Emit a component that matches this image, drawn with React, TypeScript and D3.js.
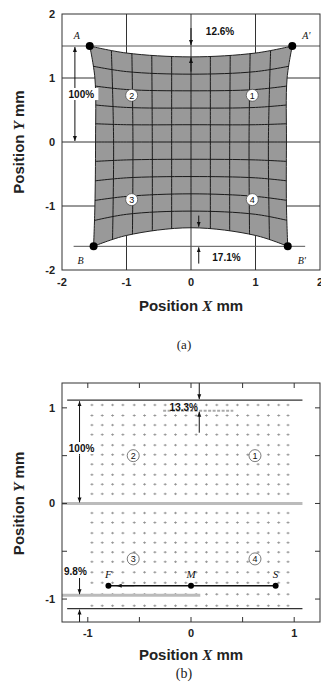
import React from 'react'
import * as d3 from 'd3'

const W = 321
const H = 693

// ---- panel (a): distorted square mesh ----
const aTickValues = [-2, -1, 0, 1, 2]
const aGridValues = [-1, 0, 1]
const topEdgeX = [-1.57, -1.0, 0, 1.0, 1.57]
const topEdgeY = [1.5, 1.39, 1.33, 1.39, 1.5]
const rightEdgeX = [1.57, 1.49, 1.48, 1.48, 1.5]
const rightEdgeY = [1.5, 1.0, 0, -1.0, -1.63]
const bottomEdgeX = [1.5, 1.0, 0, -1.0, -1.51]
const bottomEdgeY = [-1.63, -1.46, -1.34, -1.46, -1.63]
const leftEdgeX = [-1.51, -1.49, -1.48, -1.49, -1.57]
const leftEdgeY = [-1.63, -1.0, 0, 1.0, 1.5]
// mesh rows: y at x = 0, x = +-1, x = +-1.55
const rowMid = [1.06, 0.8, 0.53, 0.27, 0, -0.27, -0.54, -0.81, -1.08]
const rowShoulder = [1.1, 0.82, 0.54, 0.27, 0, -0.28, -0.56, -0.85, -1.13]
const rowEnd = [1.2, 0.89, 0.59, 0.29, 0, -0.31, -0.62, -0.93, -1.25]
// mesh columns: x at top, middle, bottom
const colTop = [-1.24, -0.92, -0.61, -0.3, 0, 0.3, 0.61, 0.92, 1.24]
const colMid = [-1.2, -0.9, -0.6, -0.3, 0, 0.3, 0.6, 0.9, 1.2]
const colBottom = [-1.22, -0.91, -0.6, -0.3, 0, 0.3, 0.6, 0.91, 1.22]
const cornerNames = ['A', "A'", 'B', "B'"]
const cornerX = [-1.57, 1.57, -1.51, 1.5]
const cornerY = [1.5, 1.5, -1.63, -1.63]
const aRefTop = 1.5
const aRefBottom = -1.63
const aQuadX = [0.95, -0.92, -0.92, 0.95]
const aQuadY = [0.73, 0.73, -0.9, -0.9]

// ---- panel (b): measured point grid ----
const bTickValues = [-1, 0, 1]
const bMinorTicks = [-1, -0.5, 0, 0.5, 1]
const dotX = [-0.96, -0.86, -0.76, -0.66, -0.55, -0.45, -0.35, -0.25, -0.15, -0.05,
  0.05, 0.15, 0.25, 0.35, 0.45, 0.55, 0.65, 0.75, 0.85, 0.94]
const dotY = [1.03, 0.92, 0.82, 0.72, 0.61, 0.51, 0.41, 0.3, 0.2, 0.1, 0,
  -0.1, -0.2, -0.31, -0.41, -0.51, -0.61, -0.72, -0.83, -0.95, -1.07]
const bLineTop = 1.08
const bLineBottom = -1.1
const bDeformTop = 0.97
const bDeformBottom = -0.96
const fmsNames = ['F', 'M', 'S']
const fmsX = [-0.8, 0, 0.82]
const fmsY = -0.86
const bQuadX = [0.62, -0.56, -0.56, 0.62]
const bQuadY = [0.5, 0.5, -0.58, -0.58]

const font = "'Liberation Sans', Arial, sans-serif"

const xa = d3.scaleLinear().domain([-2, 2]).range([62, 320])
const ya = d3.scaleLinear().domain([-2, 2]).range([270, 14])
const xb = d3.scaleLinear().domain([-1.25, 1.25]).range([62, 320])
const yb = d3.scaleLinear().domain([-1.24, 1.26]).range([622, 383])

const curve = d3.line<[number, number]>()
  .x((d) => xa(d[0]))
  .y((d) => ya(d[1]))
  .curve(d3.curveCatmullRom.alpha(0.5))

const zip = (xs: number[], ys: number[]): [number, number][] => xs.map((x, i) => [x, ys[i]])

function shapePath(): string {
  const parts = [
    curve(zip(topEdgeX, topEdgeY)) || '',
    curve(zip(rightEdgeX, rightEdgeY)) || '',
    curve(zip(bottomEdgeX, bottomEdgeY)) || '',
    curve(zip(leftEdgeX, leftEdgeY)) || ''
  ]
  return parts.map((p, i) => (i === 0 ? p : 'L' + p.slice(1))).join('') + 'Z'
}

const Arrow = ({ x1, y1, x2, y2, both }: any) => (
  <line x1={x1} y1={y1} x2={x2} y2={y2} stroke="#111" strokeWidth={1}
    markerEnd="url(#ah)" markerStart={both ? 'url(#ah)' : undefined} />
)

const Label = ({ x, y, text, size = 10, bg = false, w = 34 }: any) => (
  <g>
    {bg && <rect x={x - w / 2} y={y - size * 0.6} width={w} height={size * 1.2} fill="#fff" />}
    <text x={x} y={y} dy="0.35em" textAnchor="middle" fontFamily={font} fontSize={size}
      fontWeight="bold" fill="#111">{text}</text>
  </g>
)

const Circled = ({ x, y, n }: any) => (
  <g>
    <circle cx={x} cy={y} r={6} fill="#fff" stroke="#444" strokeWidth={0.7} />
    <text x={x} y={y} dy="0.36em" textAnchor="middle" fontFamily={font} fontSize={9}
      fill="#111">{n}</text>
  </g>
)

function PanelA() {
  const d = shapePath()
  const rowLine = d3.line<[number, number]>()
    .x((p) => xa(p[0])).y((p) => ya(p[1])).curve(d3.curveCatmullRom.alpha(0.5))
  return (
    <g>
      <defs>
        <clipPath id="meshClip"><path d={d} /></clipPath>
      </defs>
      {aGridValues.map((v) => (
        <g key={'g' + v}>
          <line x1={xa(v)} x2={xa(v)} y1={ya(2)} y2={ya(-2)} stroke="#333" strokeWidth={1} />
          <line x1={xa(-2)} x2={xa(2)} y1={ya(v)} y2={ya(v)} stroke="#333" strokeWidth={1} />
        </g>
      ))}
      <line x1={xa(-2)} x2={xa(2)} y1={ya(aRefTop)} y2={ya(aRefTop)} stroke="#555" strokeWidth={1} />
      <line x1={xa(-1.82)} x2={xa(1.77)} y1={ya(aRefBottom)} y2={ya(aRefBottom)} stroke="#555" strokeWidth={1} />
      <path d={d} fill="#999" stroke="#222" strokeWidth={1} />
      <g clipPath="url(#meshClip)">
        {rowMid.map((m, i) => (
          <path key={'r' + i} fill="none" stroke="#1a1a1a" strokeWidth={1}
            d={rowLine([[-1.6, rowEnd[i]], [-1.0, rowShoulder[i]], [0, m], [1.0, rowShoulder[i]], [1.6, rowEnd[i]]]) || ''} />
        ))}
        {colMid.map((m, i) => (
          <path key={'c' + i} fill="none" stroke="#1a1a1a" strokeWidth={1}
            d={rowLine([[colTop[i], 1.6], [m, 0], [colBottom[i], -1.7]]) || ''} />
        ))}
      </g>
      <rect x={xa(-2)} y={ya(2)} width={xa(2) - xa(-2)} height={ya(-2) - ya(2)}
        fill="none" stroke="#333" strokeWidth={1} />
      {cornerNames.map((n, i) => (
        <g key={n}>
          <circle cx={xa(cornerX[i])} cy={ya(cornerY[i])} r={4} fill="#000" />
          <text x={xa(cornerX[i]) + (i % 2 === 0 ? -16 : 10)} y={ya(cornerY[i]) + (i < 2 ? -11 : 14)}
            dy="0.35em" fontFamily="'Liberation Serif', serif" fontStyle="italic" fontSize={10}
            fill="#111">{n}</text>
        </g>
      ))}
      {aQuadX.map((x, i) => <Circled key={'q' + i} x={xa(x)} y={ya(aQuadY[i])} n={i + 1} />)}
      <Arrow x1={xa(-1.8)} y1={ya(0.75)} x2={xa(-1.8)} y2={ya(aRefTop) + 1} />
      <Arrow x1={xa(-1.8)} y1={ya(0.75)} x2={xa(-1.8)} y2={ya(0) - 1} />
      <Label x={xa(-1.7)} y={ya(0.75)} text="100%" bg w={34} />
      <Arrow x1={xa(0)} y1={ya(1.78)} x2={xa(0)} y2={ya(aRefTop) - 1} />
      <Arrow x1={xa(0)} y1={ya(1.1)} x2={xa(0)} y2={ya(1.33) + 1} />
      <Label x={xa(0.45)} y={ya(1.72)} text="12.6%" />
      <Arrow x1={xa(0.12)} y1={ya(-1.15)} x2={xa(0.12)} y2={ya(-1.34) - 1} />
      <Arrow x1={xa(0.12)} y1={ya(-1.9)} x2={xa(0.12)} y2={ya(aRefBottom) + 1} />
      <Label x={xa(0.55)} y={ya(-1.81)} text="17.1%" />
      {aTickValues.map((v) => (
        <g key={'t' + v}>
          <text x={xa(-2) - 7} y={ya(v)} dy="0.35em" textAnchor="end" fontFamily={font}
            fontSize={11} fontWeight="bold" fill="#222">{v}</text>
          <text x={xa(v)} y={ya(-2) + 16} textAnchor="middle" fontFamily={font}
            fontSize={11} fontWeight="bold" fill="#222">{v}</text>
        </g>
      ))}
      <text x={xa(0)} y={311} textAnchor="middle" fontFamily={font} fontSize={15}
        fontWeight="bold" fill="#222">Position <tspan fontStyle="italic" fontFamily="'Liberation Serif', serif">X</tspan> mm</text>
      <text transform={`translate(24,${ya(0)}) rotate(-90)`} textAnchor="middle" fontFamily={font}
        fontSize={15} fontWeight="bold" fill="#222">Position <tspan fontStyle="italic" fontFamily="'Liberation Serif', serif">Y</tspan> mm</text>
      <text x={184} y={349} textAnchor="middle" fontFamily="'Liberation Serif', serif" fontSize={13}
        fill="#222">(a)</text>
    </g>
  )
}

function PanelB() {
  const pts: [number, number][] = []
  dotY.forEach((y) => dotX.forEach((x) => pts.push([x, y])))
  return (
    <g>
      {pts.map(([x, y], i) => (
        <g key={'p' + i} stroke="#8a8a8a" strokeWidth={0.8}>
          <line x1={xb(x) - 1.5} x2={xb(x) + 1.5} y1={yb(y)} y2={yb(y)} />
          <line x1={xb(x)} x2={xb(x)} y1={yb(y) - 1.2} y2={yb(y) + 1.2} />
        </g>
      ))}
      <line x1={xb(-1.25)} x2={xb(1.08)} y1={yb(0)} y2={yb(0)} stroke="#bbb" strokeWidth={3} />
      <line x1={xb(-1.25)} x2={xb(0.09)} y1={yb(bDeformBottom)} y2={yb(bDeformBottom)} stroke="#bbb" strokeWidth={3} />
      <line x1={xb(-0.27)} x2={xb(0.41)} y1={yb(bDeformTop)} y2={yb(bDeformTop)} stroke="#aaa" strokeWidth={2} strokeDasharray="3,1.5" />
      <line x1={xb(-1.2)} x2={xb(1.08)} y1={yb(bLineTop)} y2={yb(bLineTop)} stroke="#333" strokeWidth={1.2} />
      <line x1={xb(-1.2)} x2={xb(1.08)} y1={yb(bLineBottom)} y2={yb(bLineBottom)} stroke="#333" strokeWidth={1.2} />
      <line x1={xb(fmsX[0])} x2={xb(fmsX[2])} y1={yb(fmsY)} y2={yb(fmsY)} stroke="#111" strokeWidth={1.5} />
      <Arrow x1={xb(-0.55)} y1={yb(fmsY)} x2={xb(-0.72)} y2={yb(fmsY)} />
      {fmsNames.map((n, i) => (
        <g key={n}>
          <circle cx={xb(fmsX[i])} cy={yb(fmsY)} r={3} fill="#000" />
          <text x={xb(fmsX[i])} y={yb(fmsY) - 8} textAnchor="middle" fontFamily="'Liberation Serif', serif"
            fontStyle="italic" fontSize={11} fill="#111">{n}</text>
        </g>
      ))}
      {bQuadX.map((x, i) => <Circled key={'q' + i} x={xb(x)} y={yb(bQuadY[i])} n={i + 1} />)}
      <Arrow x1={xb(-1.08)} y1={yb(0.5)} x2={xb(-1.08)} y2={yb(bLineTop) + 1} />
      <Arrow x1={xb(-1.08)} y1={yb(0.5)} x2={xb(-1.08)} y2={yb(0) - 1} />
      <Label x={xb(-1.06)} y={yb(0.58)} text="100%" bg w={34} />
      <Arrow x1={xb(0.08)} y1={yb(1.26)} x2={xb(0.08)} y2={yb(bLineTop) - 1} />
      <Arrow x1={xb(0.08)} y1={yb(0.74)} x2={xb(0.08)} y2={yb(bDeformTop) + 1} />
      <Label x={xb(-0.07)} y={yb(1.0)} text="13.3%" />
      <Arrow x1={xb(-1.08)} y1={yb(-0.78)} x2={xb(-1.08)} y2={yb(bDeformBottom) - 1} />
      <Arrow x1={xb(-1.08)} y1={yb(-1.24)} x2={xb(-1.08)} y2={yb(bLineBottom) + 1} />
      <Label x={xb(-1.12)} y={yb(-0.71)} text="9.8%" />
      {bMinorTicks.map((v) => (
        <g key={'m' + v} stroke="#333" strokeWidth={1}>
          <line x1={xb(v)} x2={xb(v)} y1={yb(1.26)} y2={yb(1.26) + 5} />
          <line x1={xb(v)} x2={xb(v)} y1={yb(-1.24)} y2={yb(-1.24) - 5} />
          <line x1={xb(-1.25)} x2={xb(-1.25) + 5} y1={yb(v)} y2={yb(v)} />
          <line x1={xb(1.25)} x2={xb(1.25) - 5} y1={yb(v)} y2={yb(v)} />
        </g>
      ))}
      <rect x={xb(-1.25)} y={yb(1.26)} width={xb(1.25) - xb(-1.25)} height={yb(-1.24) - yb(1.26)}
        fill="none" stroke="#333" strokeWidth={1} />
      {bTickValues.map((v) => (
        <g key={'t' + v}>
          <text x={xb(-1.25) - 7} y={yb(v)} dy="0.35em" textAnchor="end" fontFamily={font}
            fontSize={11} fontWeight="bold" fill="#222">{v}</text>
          <text x={xb(v)} y={yb(-1.24) + 15} textAnchor="middle" fontFamily={font}
            fontSize={11} fontWeight="bold" fill="#222">{v}</text>
        </g>
      ))}
      <text x={xb(0)} y={660} textAnchor="middle" fontFamily={font} fontSize={15}
        fontWeight="bold" fill="#222">Position <tspan fontStyle="italic" fontFamily="'Liberation Serif', serif">X</tspan> mm</text>
      <text transform={`translate(24,${yb(0)}) rotate(-90)`} textAnchor="middle" fontFamily={font}
        fontSize={15} fontWeight="bold" fill="#222">Position <tspan fontStyle="italic" fontFamily="'Liberation Serif', serif">Y</tspan> mm</text>
      <text x={184} y={678} textAnchor="middle" fontFamily="'Liberation Serif', serif" fontSize={14}
        fill="#222">(b)</text>
    </g>
  )
}

export default function App() {
  return (
    <svg width={W} height={H} style={{ position: 'absolute', left: 0, top: 0, background: '#fff' }}>
      <defs>
        <marker id="ah" viewBox="0 0 10 10" refX="10" refY="5" markerWidth="5" markerHeight="5"
          orient="auto-start-reverse">
          <path d="M0,1L10,5L0,9z" fill="#111" />
        </marker>
      </defs>
      <PanelA />
      <PanelB />
    </svg>
  )
}
